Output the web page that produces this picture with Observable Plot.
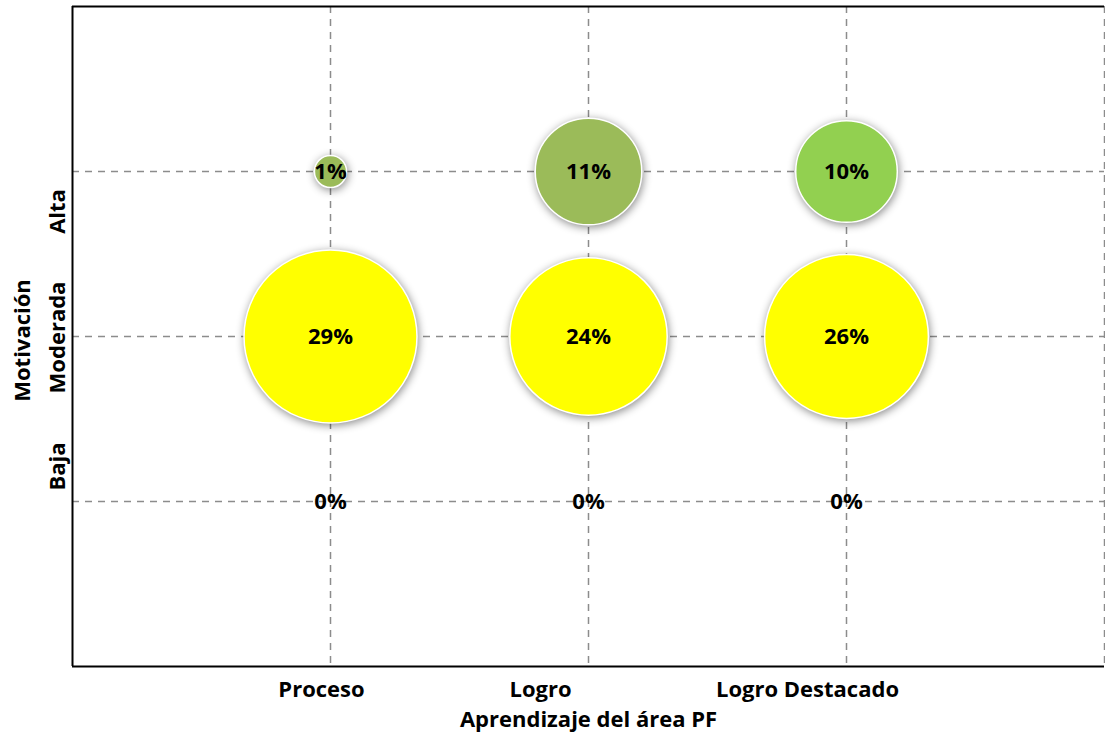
<!DOCTYPE html>
<html>
<head>
<meta charset="utf-8">
<script src="https://cdn.jsdelivr.net/npm/d3@7"></script>
<script src="https://cdn.jsdelivr.net/npm/@observablehq/plot@0.6"></script>
<style>
  html, body { margin: 0; padding: 0; background: #fff; }
  #chart svg { font-family: "Open Sans", Lato, sans-serif; }
</style>
</head>
<body>
<div id="chart"></div>
<script>
const xCategories = ["Proceso", "Logro", "Logro Destacado"];
const yCategories = ["Baja", "Moderada", "Alta"];
const altaValues = [1, 11, 10];
const moderadaValues = [29, 24, 26];
const bajaValues = [0, 0, 0];
const altaColors = ["#9BBB59", "#9BBB59", "#92D050"];
const moderadaColors = ["#FFFF00", "#FFFF00", "#FFFF00"];
const bajaColors = ["#FFFF00", "#FFFF00", "#FFFF00"];
const xTitle = "Aprendizaje del área PF";
const yTitle = "Motivación";

const rows = [
  {cat: "Baja", values: bajaValues, colors: bajaColors},
  {cat: "Moderada", values: moderadaValues, colors: moderadaColors},
  {cat: "Alta", values: altaValues, colors: altaColors}
];
const data = [];
rows.forEach(r => {
  xCategories.forEach((xc, i) => {
    data.push({
      xi: i + 1,
      yi: yCategories.indexOf(r.cat) + 1,
      value: r.values[i],
      color: r.colors[i],
      label: r.values[i] + "%"
    });
  });
});
const xLabelData = xCategories.map((c, i) => ({xi: i + 1, label: c}));
const yLabelData = yCategories.map((c, i) => ({yi: i + 1, label: c}));

const fontSize = 22;
const txt = {fontSize: fontSize, fontWeight: "bold", fill: "black"};
const chart = Plot.plot({
  width: 1105,
  height: 734,
  marginLeft: 72,
  marginRight: 1,
  marginTop: 6,
  marginBottom: 68,
  x: {domain: [0, 4], axis: null},
  y: {domain: [0, 4], axis: null},
  r: {type: "sqrt", domain: [0, 29], range: [0, 86.5]},
  marks: [
    Plot.ruleX([1, 2, 3, 4], {stroke: "#8c8c8c", strokeWidth: 1.5, strokeDasharray: "7,6"}),
    Plot.ruleY([1, 2, 3], {stroke: "#8c8c8c", strokeWidth: 1.5, strokeDasharray: "7,6"}),
    Plot.dot(data.filter(d => d.value > 0), {
      x: "xi", y: "yi", r: "value", fill: "color",
      stroke: "white", strokeWidth: 1.5, sort: {channel: "-r"}
    }),
    Plot.text(data, {x: "xi", y: "yi", text: "label", ...txt}),
    Plot.ruleX([0], {stroke: "black", strokeWidth: 2}),
    Plot.ruleY([0, 4], {stroke: "black", strokeWidth: 2}),
    // x tick labels
    Plot.text(xLabelData.filter(d => d.label === "Proceso"), {x: "xi", y: 0, text: "label", dx: -9, dy: 23, ...txt}),
    Plot.text(xLabelData.filter(d => d.label === "Logro"), {x: "xi", y: 0, text: "label", dx: -48, dy: 23, ...txt}),
    Plot.text(xLabelData.filter(d => d.label === "Logro Destacado"), {x: "xi", y: 0, text: "label", dx: -39, dy: 23, ...txt}),
    // x title
    Plot.text([xTitle], {x: 2, y: 0, text: d => d, dy: 53, ...txt}),
    // y tick labels
    Plot.text(yLabelData.filter(d => d.label === "Alta"), {x: 0, y: "yi", text: "label", rotate: -90, dx: -15, dy: 40, ...txt}),
    Plot.text(yLabelData.filter(d => d.label === "Moderada"), {x: 0, y: "yi", text: "label", rotate: -90, dx: -15, dy: 1, ...txt}),
    Plot.text(yLabelData.filter(d => d.label === "Baja"), {x: 0, y: "yi", text: "label", rotate: -90, dx: -15, dy: -35, ...txt}),
    // y title
    Plot.text([yTitle], {x: 0, y: 2, text: d => d, rotate: -90, dx: -50, dy: 4, ...txt})
  ]
});
document.getElementById("chart").appendChild(chart);
d3.select(chart).selectAll("circle").style("filter", "drop-shadow(1px 2px 4px rgba(0,0,0,0.45))");
</script>
</body>
</html>
